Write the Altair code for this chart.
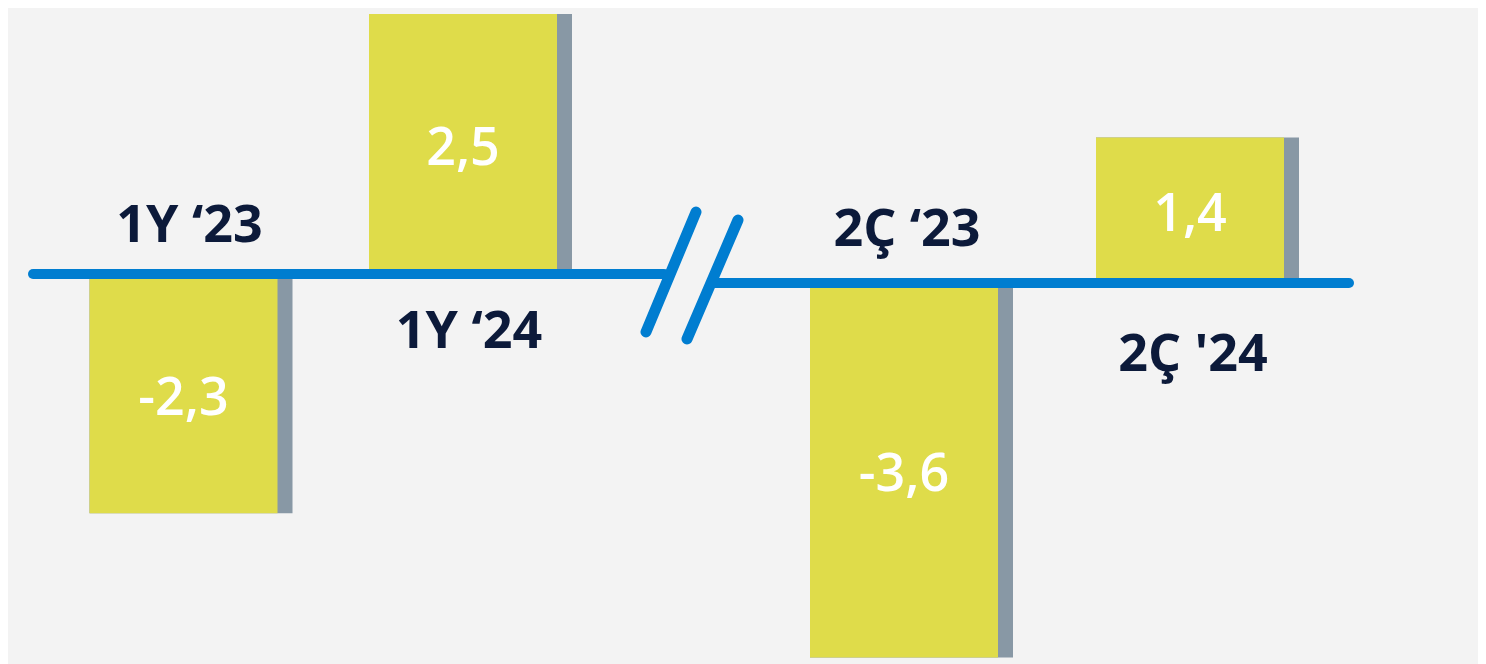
import altair as alt
import pandas as pd

# ---- data ----
categories = ["1Y ‘23", "1Y ‘24", "2Ç ‘23", "2Ç '24"]
values = [-2.3, 2.5, -3.6, 1.4]
groups = ["left", "left", "right", "right"]

df = pd.DataFrame({"cat": categories, "value": values, "group": groups})

YELLOW = "#DFDC4A"
SHADOW = "#8898A5"
BLUE = "#007DD0"
NAVY = "#0C1A3A"
FONT = "Open Sans"

yscale = alt.Scale(domain=[-3.75, 2.558], nice=False, zero=False)


def panel(group, x_range, y_off, dy_above, dy_below, dx_label):
    base = alt.Chart(df).transform_filter(alt.datum.group == group).transform_calculate(
        mid="datum.value / 2",
        label="replace('' + datum.value, '.', ',')",
    )
    xenc = alt.X(
        "cat:N",
        sort=None,
        scale=alt.Scale(type="band", range=x_range, paddingInner=0, paddingOuter=0),
        axis=None,
    )
    yenc = alt.Y("value:Q", scale=yscale, axis=None)
    shadow = base.mark_bar(
        size=203, xOffset=7.5, yOffset=y_off, y2Offset=y_off, color=SHADOW
    ).encode(x=xenc, y=yenc, y2=alt.datum(0))
    bar = base.mark_bar(
        size=188, yOffset=y_off, y2Offset=y_off, color=YELLOW
    ).encode(x=xenc, y=yenc, y2=alt.datum(0))
    vtext = base.mark_text(
        font=FONT, fontSize=52, fontWeight=600, color="white",
        baseline="middle", yOffset=y_off, dy=5,
    ).encode(x=xenc, y=alt.Y("mid:Q", scale=yscale, axis=None), text="label:N")
    above = base.transform_filter(alt.datum.value < 0).mark_text(
        font=FONT, fontSize=52, fontWeight="bold", color=NAVY,
        baseline="middle", dy=dy_above, dx=dx_label,
    ).encode(x=xenc, y=alt.YDatum(0, scale=yscale, axis=None), text="cat:N")
    below = base.transform_filter(alt.datum.value >= 0).mark_text(
        font=FONT, fontSize=52, fontWeight="bold", color=NAVY,
        baseline="middle", dy=dy_below, dx=dx_label,
    ).encode(x=xenc, y=alt.YDatum(0, scale=yscale, axis=None), text="cat:N")
    return alt.layer(shadow, bar, vtext, above, below)


left = panel("left", [35.75, 594.75], 0, -48, 58, 6)
right = panel("right", [753, 1325], 9, -44, 81, 3)

one = alt.Data(values=[{"a": 1}])

left_line = alt.Chart(one).mark_rule(
    strokeWidth=10, strokeCap="round", color=BLUE
).encode(y=alt.YDatum(0, scale=yscale, axis=None), x=alt.value(25), x2=alt.value(656))

right_line = alt.Chart(one).mark_rule(
    strokeWidth=10, strokeCap="round", color=BLUE, yOffset=9
).encode(y=alt.YDatum(0, scale=yscale, axis=None), x=alt.value(707), x2=alt.value(1341))

slash1 = alt.Chart(one).mark_rule(
    strokeWidth=11, strokeCap="round", color=BLUE
).encode(x=alt.value(688), y=alt.value(204), x2=alt.value(638), y2=alt.value(324))

slash2 = alt.Chart(one).mark_rule(
    strokeWidth=11, strokeCap="round", color=BLUE
).encode(x=alt.value(730), y=alt.value(212), x2=alt.value(679), y2=alt.value(331))

chart = alt.layer(left, right, left_line, right_line, slash1, slash2).resolve_scale(
    x="independent"
).properties(
    width=1470,
    height=656,
    padding=0,
    autosize=alt.AutoSizeParams(type="none"),
    background="#F3F3F3",
).configure_view(stroke=None)

chart.save("out.html", embed_options={"renderer": "svg", "actions": False})
